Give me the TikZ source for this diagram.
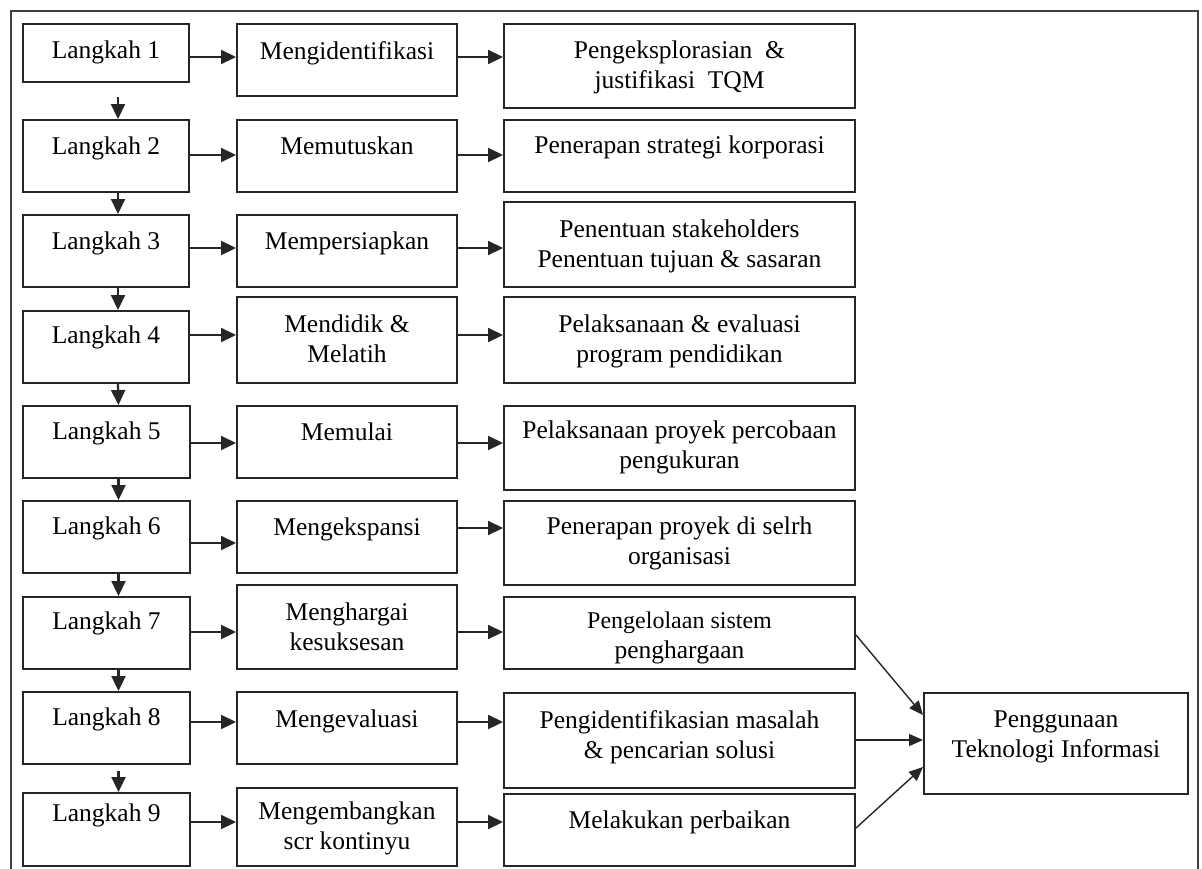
\documentclass[tikz,border=0pt]{standalone}
\usepackage{fontspec}
\setmainfont{Liberation Serif}
\usetikzlibrary{arrows.meta}

\tikzset{
  boxst/.style={draw=black!85, line width=2pt, rectangle, inner sep=0pt, fill=white},
  txt/.style={anchor=north, inner sep=0pt, align=center, text=black,
              font=\fontsize{25.5}{30}\selectfont},
  harrow/.style={draw=black!85, line width=2.2pt, -{Triangle[length=15pt,width=14pt]}},
  darrow/.style={draw=black!85, line width=1.4pt, -{Triangle[length=14pt,width=12pt]}},
  frame/.style={draw=black!75, line width=2pt}
}

% box with its label set near the top: name, x1, y1, x2, y2, label offset, label
\newcommand\pbox[7]{%
  \node[boxst, minimum width={#4-#2}, minimum height={#5-#3}] (#1) at ({(#2+#4)/2},{(#3+#5)/2}) {};
  \node[txt] (#1t) at ([yshift=-#6pt]#1.north) {#7};
}
% horizontal arrow between two boxes at a given height
\newcommand\harr[3]{\draw[harrow] (#1.east |- 0,#3) -- (#2.west |- 0,#3);}

\begin{document}
\begin{tikzpicture}[x=1pt, y=-1pt]
\useasboundingbox (0,0) rectangle (1202,868);
\clip (0,0) rectangle (1202,868);
\fill[white] (0,0) rectangle (1202,868);
\draw[frame] (11,11) rectangle (1198,885);

% steps
\pbox{a1}{23}{24}{189}{82}{18}{Langkah 1}
\pbox{a2}{23}{120}{189}{192}{18}{Langkah 2}
\pbox{a3}{23}{215}{189}{287}{18}{Langkah 3}
\pbox{a4}{23}{311}{189}{383}{16}{Langkah 4}
\pbox{a5}{23}{406}{190}{478}{17}{Langkah 5}
\pbox{a6}{23}{501}{190}{573}{17}{Langkah 6}
\pbox{a7}{23}{597}{190}{669}{16}{Langkah 7}
\pbox{a8}{23}{692}{190}{764}{17}{Langkah 8}
\pbox{a9}{23}{793}{190}{866}{12}{Langkah 9}

% actions
\pbox{b1}{237}{24}{457}{96}{18}{Mengidentifikasi}
\pbox{b2}{237}{120}{457}{192}{18}{Memutuskan}
\pbox{b3}{237}{215}{457}{287}{18}{Mempersiapkan}
\pbox{b4}{237}{297}{457}{383}{19}{Mendidik \&\\Melatih}
\pbox{b5}{237}{406}{457}{478}{18}{Memulai}
\pbox{b6}{237}{501}{457}{573}{18}{Mengekspansi}
\pbox{b7}{237}{585}{457}{669}{19}{Menghargai\\kesuksesan}
\pbox{b8}{237}{692}{457}{764}{19}{Mengevaluasi}
\pbox{b9}{237}{788}{457}{866}{15}{Mengembangkan\\scr kontinyu}

% activities
\pbox{c1}{504}{24}{855}{108}{18}{Pengeksplorasian~~\&\\justifikasi~~TQM}
\pbox{c2}{504}{120}{855}{192}{17}{Penerapan strategi korporasi}
\pbox{c3}{504}{202}{855}{287}{19}{Penentuan stakeholders\\Penentuan tujuan \& sasaran}
\pbox{c4}{504}{297}{855}{383}{19}{Pelaksanaan \& evaluasi\\program pendidikan}
\pbox{c5}{504}{406}{855}{490}{16}{Pelaksanaan proyek percobaan\\pengukuran}
\pbox{c6}{504}{501}{855}{585}{17}{Penerapan proyek di selrh\\organisasi}
\pbox{c7}{504}{597}{855}{669}{16}{\fontsize{24}{25}\selectfont Pengelolaan sistem\\penghargaan}
\pbox{c8}{504}{693}{855}{788}{18}{Pengidentifikasian masalah\\\& pencarian solusi}
\pbox{c9}{504}{794}{855}{866}{18}{Melakukan perbaikan}

% information technology
\pbox{d}{924}{693}{1188}{794}{19}{Penggunaan\\Teknologi Informasi}

% step sequence
\draw[harrow] ([xshift=12pt,yshift=-14pt]a1.south) -- ([xshift=12pt]a2.north);
\draw[harrow] ([xshift=12pt]a2.south) -- ([xshift=12pt]a3.north);
\draw[harrow] ([xshift=12pt]a3.south) -- ([xshift=12pt]a4.north);
\draw[harrow] ([xshift=12pt]a4.south) -- ([xshift=12pt]a5.north);
\draw[harrow] ([xshift=12pt]a5.south) -- ([xshift=12pt]a6.north);
\draw[harrow] ([xshift=12pt]a6.south) -- ([xshift=12pt]a7.north);
\draw[harrow] ([xshift=12pt]a7.south) -- ([xshift=12pt]a8.north);
\draw[harrow] ([xshift=12pt,yshift=-6pt]a8.south) -- ([xshift=12pt]a9.north);

% step -> action
\harr{a1}{b1}{57}
\harr{a2}{b2}{155}
\harr{a3}{b3}{248}
\harr{a4}{b4}{335}
\harr{a5}{b5}{443}
\harr{a6}{b6}{543}
\harr{a7}{b7}{632}
\harr{a8}{b8}{722}
\harr{a9}{b9}{822}

% action -> activity
\harr{b1}{c1}{57}
\harr{b2}{c2}{155}
\harr{b3}{c3}{248}
\harr{b4}{c4}{335}
\harr{b5}{c5}{443}
\harr{b6}{c6}{528}
\harr{b7}{c7}{632}
\harr{b8}{c8}{722}
\harr{b9}{c9}{822}

% activities -> information technology
\draw[darrow] (c7.east |- 0,635) -- (d.west |- 0,715);
\draw[darrow] (c8.east |- 0,740) -- (d.west |- 0,740);
\draw[darrow] (c9.east |- 0,828) -- (d.west |- 0,767);
\end{tikzpicture}
\end{document}
